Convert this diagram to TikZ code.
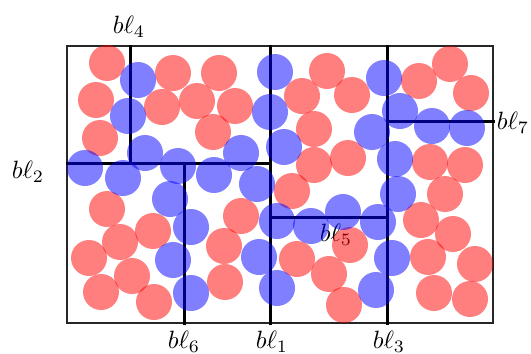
\documentclass[tikz,border=0pt]{standalone}
\begin{document}
\begin{tikzpicture}
% Block partition with red and blue disks
\def\pxsz{0.4pt}
\providecommand{\blkDiskRadius}{18}
\providecommand{\blkLineWidth}{1.2pt}
\providecommand{\blkFrameWidth}{0.5pt}
\begin{scope}[x=\pxsz, y=-\pxsz, line cap=rect]
  \useasboundingbox (0,0) rectangle (531,353);
  % Outer frame
  \draw[line width=\blkFrameWidth, black!85] (67,46) rectangle (493,323);
  % Block lines
  \begin{scope}[draw=black, line width=\blkLineWidth]
    \draw (270,46) -- (270,323);
    \draw (67,163) -- (270,163);
    \draw (387,46) -- (387,323);
    \draw (130,46) -- (130,163);
    \draw (270,217) -- (387,217);
    \draw (184,163) -- (184,323);
    \draw (387,121) -- (493,121);
  \end{scope}
  % Labels
  \node (bl1) at (272,342) {$b\ell_1$};
  \node (bl2) at (28,172) {$b\ell_2$};
  \node (bl3) at (389,342) {$b\ell_3$};
  \node (bl4) at (129,27) {$b\ell_4$};
  \node (bl5) at (336,235) {$b\ell_5$};
  \node (bl6) at (184,342) {$b\ell_6$};
  \node (bl7) at (513,123) {$b\ell_7$};
  % Red disks
  \begin{scope}[fill=red, fill opacity=0.5]
    \fill (107,63) circle (\blkDiskRadius);
    \fill (96,100) circle (\blkDiskRadius);
    \fill (173,73) circle (\blkDiskRadius);
    \fill (219,73) circle (\blkDiskRadius);
    \fill (162,107) circle (\blkDiskRadius);
    \fill (197,101) circle (\blkDiskRadius);
    \fill (235,106) circle (\blkDiskRadius);
    \fill (213,132) circle (\blkDiskRadius);
    \fill (100,138) circle (\blkDiskRadius);
    \fill (327,71) circle (\blkDiskRadius);
    \fill (302,96) circle (\blkDiskRadius);
    \fill (352,95) circle (\blkDiskRadius);
    \fill (314,129) circle (\blkDiskRadius);
    \fill (314,165) circle (\blkDiskRadius);
    \fill (348,158) circle (\blkDiskRadius);
    \fill (419,81) circle (\blkDiskRadius);
    \fill (450,64) circle (\blkDiskRadius);
    \fill (471,93) circle (\blkDiskRadius);
    \fill (430,162) circle (\blkDiskRadius);
    \fill (465,165) circle (\blkDiskRadius);
    \fill (292,191) circle (\blkDiskRadius);
    \fill (445,194) circle (\blkDiskRadius);
    \fill (107,209) circle (\blkDiskRadius);
    \fill (120,242) circle (\blkDiskRadius);
    \fill (153,231) circle (\blkDiskRadius);
    \fill (89,258) circle (\blkDiskRadius);
    \fill (132,276) circle (\blkDiskRadius);
    \fill (101,292) circle (\blkDiskRadius);
    \fill (154,302) circle (\blkDiskRadius);
    \fill (241,216) circle (\blkDiskRadius);
    \fill (224,246) circle (\blkDiskRadius);
    \fill (225,282) circle (\blkDiskRadius);
    \fill (297,259) circle (\blkDiskRadius);
    \fill (350,245) circle (\blkDiskRadius);
    \fill (329,274) circle (\blkDiskRadius);
    \fill (344,305) circle (\blkDiskRadius);
    \fill (421,220) circle (\blkDiskRadius);
    \fill (453,234) circle (\blkDiskRadius);
    \fill (428,257) circle (\blkDiskRadius);
    \fill (475,264) circle (\blkDiskRadius);
    \fill (434,293) circle (\blkDiskRadius);
    \fill (470,299) circle (\blkDiskRadius);
  \end{scope}
  % Blue disks
  \begin{scope}[fill=blue, fill opacity=0.5]
    \fill (138,80) circle (\blkDiskRadius);
    \fill (128,116) circle (\blkDiskRadius);
    \fill (145,153) circle (\blkDiskRadius);
    \fill (85,168) circle (\blkDiskRadius);
    \fill (123,178) circle (\blkDiskRadius);
    \fill (178,166) circle (\blkDiskRadius);
    \fill (214,175) circle (\blkDiskRadius);
    \fill (241,153) circle (\blkDiskRadius);
    \fill (257,184) circle (\blkDiskRadius);
    \fill (275,72) circle (\blkDiskRadius);
    \fill (270,112) circle (\blkDiskRadius);
    \fill (284,147) circle (\blkDiskRadius);
    \fill (384,78) circle (\blkDiskRadius);
    \fill (400,111) circle (\blkDiskRadius);
    \fill (372,132) circle (\blkDiskRadius);
    \fill (432,126) circle (\blkDiskRadius);
    \fill (467,128) circle (\blkDiskRadius);
    \fill (395,159) circle (\blkDiskRadius);
    \fill (398,194) circle (\blkDiskRadius);
    \fill (170,199) circle (\blkDiskRadius);
    \fill (191,227) circle (\blkDiskRadius);
    \fill (173,260) circle (\blkDiskRadius);
    \fill (191,293) circle (\blkDiskRadius);
    \fill (259,257) circle (\blkDiskRadius);
    \fill (277,221) circle (\blkDiskRadius);
    \fill (277,288) circle (\blkDiskRadius);
    \fill (343,212) circle (\blkDiskRadius);
    \fill (311,226) circle (\blkDiskRadius);
    \fill (378,222) circle (\blkDiskRadius);
    \fill (392,258) circle (\blkDiskRadius);
    \fill (376,290) circle (\blkDiskRadius);
  \end{scope}
\end{scope}
\end{tikzpicture}
\end{document}
